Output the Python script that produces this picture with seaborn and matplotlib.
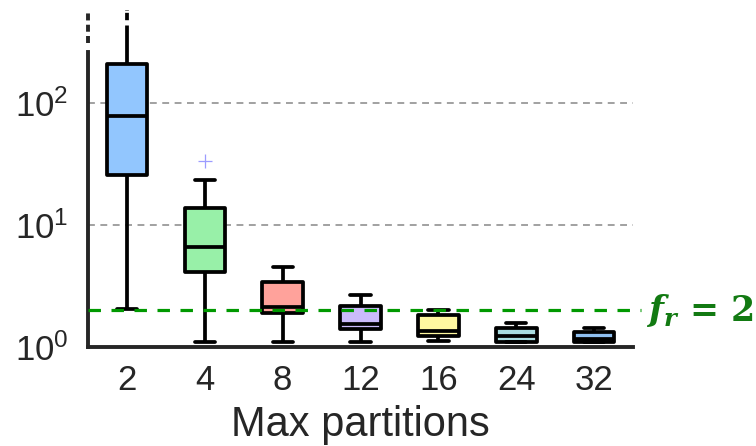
import numpy as np
import pandas as pd
import matplotlib
matplotlib.use("Agg")
import matplotlib.pyplot as plt
import matplotlib.transforms as mtransforms
import seaborn as sns

# box statistics (log scale)
partitions = ["2", "4", "8", "12", "16", "24", "32"]
whis_lo = [2.05, 1.1, 1.1, 1.1, 1.12, 1.1, 1.1]
q1 = [25.8, 4.12, 1.9, 1.40, 1.23, 1.1, 1.1]
median = [78, 6.6, 2.13, 1.54, 1.35, 1.23, 1.16]
q3 = [209, 13.8, 3.41, 2.17, 1.83, 1.43, 1.33]
whis_hi = [700, 23.4, 4.5, 2.67, 2.01, 1.57, 1.43]
flier_part = ["4"]
flier_val = [33.5]
colors = ["#92C6FE", "#98F0A8", "#FFA29B", "#CBBBFB", "#FFF8A0", "#A9DCE0", "#8FBFEF"]
f_r = 2

rows = []
for i, p in enumerate(partitions):
    for v in (whis_lo[i], q1[i], median[i], q3[i], whis_hi[i]):
        rows.append({"part": p, "speedup": v})
df = pd.DataFrame(rows)

sns.set_style("white")
plt.rcParams["font.family"] = ["Liberation Sans", "DejaVu Sans"]
plt.rcParams["mathtext.fontset"] = "dejavuserif"
text_col = "#262626"

fig = plt.figure(figsize=(7.56, 4.46), dpi=100)
ax = fig.add_axes([0.1164, 0.222, 0.721, 0.7556])

lw = 2.7
sns.boxplot(data=df, x="part", y="speedup", hue="part", order=partitions,
            palette=colors, saturation=1, whis=(0, 100), width=0.52,
            linecolor="black", linewidth=lw, legend=False, ax=ax,
            boxprops={"joinstyle": "round"},
            whiskerprops={"solid_capstyle": "butt"},
            capprops={"solid_capstyle": "round"})
ax.set_yscale("log")

top = 10 ** 2.76
ax.set_ylim(1, top)
ax.set_xlim(-0.5, len(partitions) - 0.5)

# outlier
sns.scatterplot(x=[partitions.index(p) for p in flier_part], y=flier_val,
                marker="+", color="#9c9cff", s=110, linewidth=0.9, ax=ax, zorder=5)

# broken top of first whisker
whisker_break = 436
ax.vlines(0, whisker_break, top, colors="white", linewidth=3.8,
          linestyles=(0, (1.0, 1.4)), zorder=6)

# spines
for s in ["top", "right"]:
    ax.spines[s].set_visible(False)
for s in ["left", "bottom"]:
    ax.spines[s].set_linewidth(2.8)
    ax.spines[s].set_color(text_col)
axis_break = 262
ax.spines["left"].set_bounds(1, axis_break)
frac = np.log10(axis_break) / np.log10(top)
ax.axvline(-0.5, ymin=frac + 0.025, ymax=1.0, color=text_col, lw=2.8,
           linestyle=(0, (1.8, 1.1)), clip_on=False)

# grid
ax.yaxis.grid(True, which="major", color="#888888", linestyle=(0, (4.5, 3.6)), linewidth=1.1)
ax.xaxis.grid(False)
ax.set_axisbelow(True)
ax.minorticks_off()
ax.set_yticks([1, 10, 100])

# f_r line
ax.axhline(f_r, color="#009900", lw=2.3, linestyle=(0, (3.9, 3.3)), zorder=7,
           xmax=1.015, clip_on=False)
trans = mtransforms.blended_transform_factory(ax.transAxes, ax.transData)
ax.text(1.024, f_r, r"$\mathbfit{f}_{\mathbfit{r}}\mathbf{\,=\,2}$", transform=trans,
        color="#127A12", fontsize=25, va="center", ha="left")

ax.tick_params(axis="both", length=0, labelsize=25, colors=text_col)
ax.tick_params(axis="y", pad=14)
ax.tick_params(axis="x", pad=12)
ax.set_xlabel("Max partitions", fontsize=30, color=text_col, labelpad=6)
ax.set_ylabel("")

fig.savefig("out.png", dpi=100)
